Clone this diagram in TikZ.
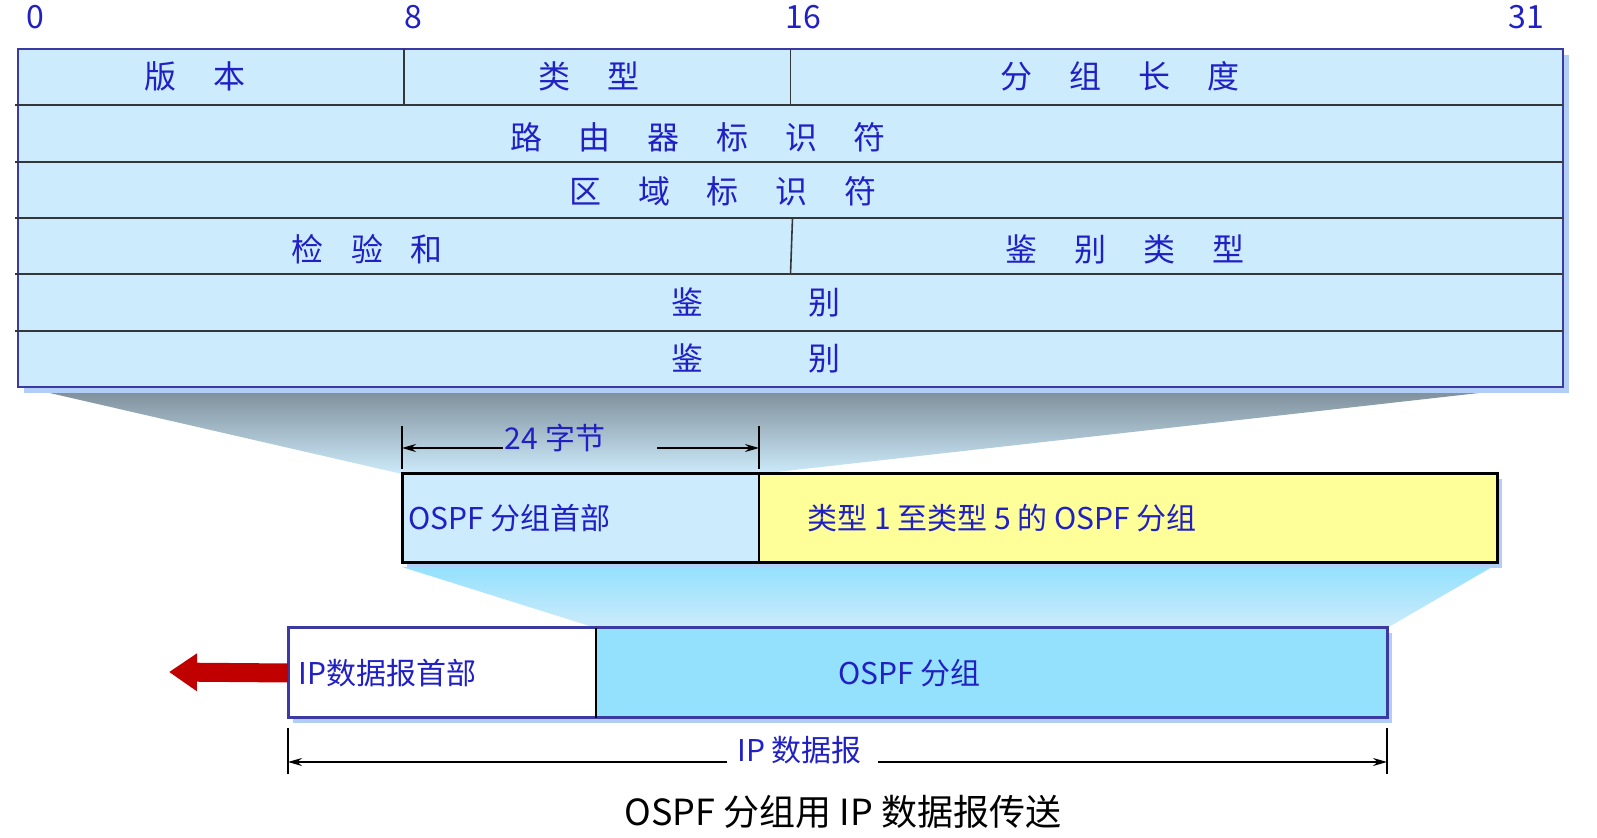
\documentclass[tikz,border=0pt]{standalone}
\usepackage{fontspec}
\setmainfont{Noto Sans CJK SC}
\usetikzlibrary{arrows.meta,positioning,calc,backgrounds}
\definecolor{navy}{HTML}{3A3AA2}
\definecolor{cellblue}{HTML}{CCEBFD}
\definecolor{shadeblue}{HTML}{B2CEF6}
\definecolor{ink}{HTML}{2020C4}
\definecolor{rule}{HTML}{33373A}
\definecolor{paygold}{HTML}{FFFF99}
\definecolor{skycyan}{HTML}{94E1FD}
\definecolor{funnelgray}{HTML}{7F8F9B}
\definecolor{funnelpale}{HTML}{CDEBFB}
\definecolor{arrowred}{HTML}{C00000}
\newcommand\gap{\hspace{1.15em}}
\newcommand\narrowgap{\hspace{0.85em}}
\tikzset{
    bitnum/.style={text=ink,font=\fontsize{16}{18}\selectfont,inner sep=1pt},
    fieldtext/.style={text=ink,font=\fontsize{16}{18}\selectfont,inner sep=1pt},
    boxtext/.style={text=ink,font=\fontsize{15}{18}\selectfont,inner sep=1pt},
    pktbox/.style={minimum height=44.5pt,inner sep=0pt,outer sep=0pt},
    rowline/.style={draw=rule,line width=1.1pt},
    dimtick/.style={draw=black,line width=0.6pt},
    dimarrow/.style={-{Stealth[length=7pt,width=4pt]},draw=black,line width=0.7pt},
    redarrow/.style={-{Triangle[length=14pt,width=18pt]},draw=arrowred,line width=9.5pt}
}
\begin{document}
\begin{tikzpicture}[x=0.5pt,y=-0.5pt]
  \useasboundingbox (0,0) rectangle (1597,838);
  % bit numbers
  \foreach \b/\x in {0/35,8/413,16/803,31/1526}
    \node[bitnum] (bit\b) at (\x,17) {\b};
  % header table
  \fill[shadeblue] (24,55) rectangle (1569,393);
  \node[fill=cellblue,draw=navy,line width=1pt,minimum width=772.5pt,
    minimum height=169pt,inner sep=0pt,outer sep=0pt] (tbl) at (790.5,218) {};
  \foreach \k in {1,...,5}
    \draw[rowline] ($(tbl.north west)!\k/6!(tbl.south west)+(-3,0)$) -- ($(tbl.north east)!\k/6!(tbl.south east)$);
  \draw[rowline,line width=0.8pt] ($(tbl.north west)!0.25!(tbl.north east)$) -- ++(0,56.3);
  \draw[rowline,line width=0.8pt] ($(tbl.north west)!0.5!(tbl.north east)$) -- ++(0,56.3);
  \draw[rowline,line width=0.8pt] ($(tbl.north west)!0.5!(tbl.north east)+(2,169)$) -- ++(-2,56.3);
  \node[fieldtext] (ver) at (195,76) {版\gap 本};
  \node[fieldtext] (ptype) at (589,76) {类\gap 型};
  \node[fieldtext] (plen) at (1120,76) {分\gap 组\gap 长\gap 度};
  \node[fieldtext] (rid) at (698,137) {路\gap 由\gap 器\gap 标\gap 识\gap 符};
  \node[fieldtext] (aid) at (723,191) {区\gap 域\gap 标\gap 识\gap 符};
  \node[fieldtext] (csum) at (367,249) {检\narrowgap 验\narrowgap 和};
  \node[fieldtext] (autype) at (1125,249) {鉴\gap 别\gap 类\gap 型};
  \node[fieldtext] (auth1) at (756,302) {鉴\hspace{3.3em}别};
  \node[fieldtext] (auth2) at (756,358) {鉴\hspace{3.3em}别};
  % OSPF packet
  \node[pktbox,fill=cellblue,minimum width=178.5pt] (hdr) at (580.5,518.5) {};
  \node[pktbox,fill=paygold,minimum width=369pt,right=0pt of hdr] (pay) {};
  \draw[black,line width=1.5pt] (hdr.north west) rectangle (pay.south east);
  \draw[black,line width=1pt] (hdr.north east) -- (hdr.south east);
  \node[boxtext,right=2pt of hdr.west] (hdrlbl) {OSPF 分组首部};
  \node[boxtext,right=23pt of pay.west] (paylbl) {类型 1 至类型 5 的 OSPF 分组};
  % 24 bytes
  \node[boxtext] (bytes24) at (555,438) {24 字节};
  \draw[dimtick] ([yshift=2.5pt]hdr.north west) -- ++(0,-43);
  \draw[dimtick] ([yshift=2.5pt]hdr.north east) -- ++(0,-43);
  \coordinate (d24l) at ($(hdr.north west)+(0,-26)$);
  \coordinate (d24r) at ($(hdr.north east)+(0,-26)$);
  \draw[dimarrow] (d24l -| bytes24.west) -- (d24l);
  \draw[dimarrow] ([xshift=25pt]d24r -| bytes24.east) -- (d24r);
  % IP datagram
  \node[pktbox,fill=white,minimum width=154pt,minimum height=45pt] (iphdr) at (442,673) {};
  \node[pktbox,fill=skycyan,minimum width=395.5pt,minimum height=45pt,right=0pt of iphdr] (ippay) {};
  \draw[navy,line width=1.5pt] (iphdr.north west) rectangle (ippay.south east);
  \draw[black,line width=0.6pt] (iphdr.north east) -- (iphdr.south east);
  \node[boxtext,right=4pt of iphdr.west] (iphdrlbl) {IP数据报首部};
  \node[boxtext,right=120pt of ippay.west] (ippaylbl) {OSPF 分组};
  \coordinate (redtip) at (169,672);
  \draw[redarrow] (iphdr.west) -- (redtip);
  % datagram length
  \node[boxtext] (ipdg) at (799.5,750) {IP 数据报};
  \draw[dimtick] ([yshift=-5pt]iphdr.south west) -- ++(0,46);
  \draw[dimtick] ([yshift=-5pt]ippay.south east) -- ++(0,46);
  \coordinate (dipl) at ($(iphdr.south west)+(0,44)$);
  \coordinate (dipr) at ($(ippay.south east)+(0,44)$);
  \draw[dimarrow] ([xshift=-4pt]dipl -| ipdg.west) -- (dipl);
  \draw[dimarrow] ([xshift=7pt]dipr -| ipdg.east) -- (dipr);
  \node[font=\fontsize{18}{20}\selectfont] (caption) at (843,812) {OSPF 分组用 IP 数据报传送};
  % funnels and shadows
  \begin{scope}[on background layer]
    \fill[shadeblue] ([shift={(5,5)}]hdr.north west) rectangle ([shift={(5,5)}]pay.south east);
    \fill[shadeblue] ([shift={(5,5)}]iphdr.north west) rectangle ([shift={(5,5)}]ippay.south east);
    \shade[top color=funnelgray,bottom color=funnelpale] (41,391) -- (1497,391) -- (hdr.north east) -- (hdr.north west) -- cycle;
    \shade[top color=skycyan,bottom color=funnelpale] (402,567) -- (1492,567) -- (ippay.north east) -- (ippay.north west) -- cycle;
  \end{scope}
\end{tikzpicture}
\end{document}
